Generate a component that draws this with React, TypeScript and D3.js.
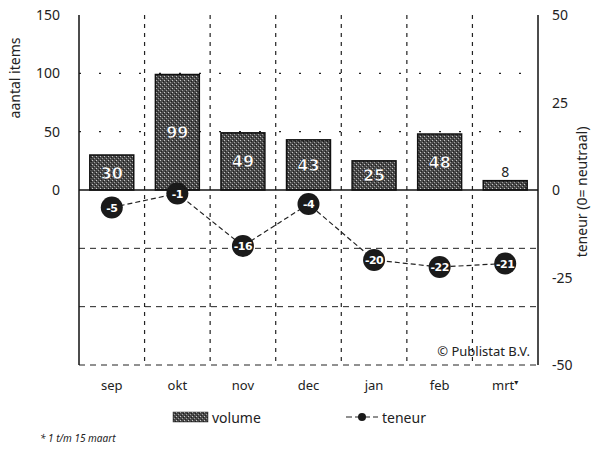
import React from "react";
import * as d3 from "d3";

const categories = ["sep", "okt", "nov", "dec", "jan", "feb", "mrt*"];
const volume = [30, 99, 49, 43, 25, 48, 8];
const teneur = [-5, -1, -16, -4, -20, -22, -21];
const leftTicks = [0, 50, 100, 150];
const rightTicks = [-50, -25, 0, 25, 50];
const gridDotted = [50, 100];
const gridDashed = [-50, -100, -150];

const W = 597, H = 449;
const M = { left: 79, right: 538, top: 15, bottom: 365 };
const FONT = "'Noto Sans', 'DejaVu Sans', sans-serif";
const BOLD = "'DejaVu Sans', sans-serif";

export default function App() {
  const x = d3.scaleBand().domain(categories).range([M.left, M.right]).paddingInner(0.33).paddingOuter(0.165);
  const xs = d3.scaleBand().domain(categories).range([M.left, M.right]);
  const yL = d3.scaleLinear().domain([-150, 150]).range([M.bottom, M.top]);
  const yR = d3.scaleLinear().domain([-50, 50]).range([M.bottom, M.top]);
  const line = d3.line<number>().x((_, i) => xs(categories[i])! + xs.bandwidth() / 2).y(d => yR(d));

  return (
    <svg width={W} height={H} style={{ position: "absolute", left: 0, top: 0, background: "#fff" }} fontFamily={FONT}>
      <defs>
        <pattern id="tex" width="4" height="4" patternUnits="userSpaceOnUse">
          <rect width="4" height="4" fill="#4a4a4a" />
          <rect x="0" y="0" width="1" height="1" fill="#c8c8c8" />
          <rect x="2" y="2" width="1" height="1" fill="#a0a0a0" />
          <rect x="3" y="1" width="1" height="1" fill="#1a1a1a" />
          <rect x="1" y="3" width="1" height="1" fill="#222" />
        </pattern>
      </defs>
      {/* horizontal grid */}
      {gridDotted.map(v => (
        <line key={"gd" + v} x1={M.left} x2={M.right} y1={yL(v)} y2={yL(v)} stroke="#222" strokeWidth={1.2} strokeDasharray="2,18" />
      ))}
      {gridDashed.map(v => (
        <line key={"gs" + v} x1={M.left} x2={M.right} y1={yL(v)} y2={yL(v)} stroke="#222" strokeWidth={1} strokeDasharray="6,5" />
      ))}
      {/* vertical grid */}
      {categories.slice(1).map(c => (
        <line key={"v" + c} x1={xs(c)!} x2={xs(c)!} y1={M.top} y2={M.bottom} stroke="#222" strokeWidth={1.2} strokeDasharray="4,5" />
      ))}
      {/* bars */}
      {volume.map((v, i) => (
        <g key={"b" + i}>
          <rect x={x(categories[i])!} y={yL(v)} width={x.bandwidth()} height={yL(0) - yL(v)} fill="url(#tex)" stroke="#111" strokeWidth={1.5} />
          {v >= 20 ? (
            <text x={x(categories[i])! + x.bandwidth() / 2} y={(yL(v) + yL(0)) / 2 + 6} textAnchor="middle" fontFamily={BOLD} fontSize={16} fontWeight="bold" fill="#fff" stroke="#111" strokeWidth={0.5}>{v}</text>
          ) : (
            <text x={x(categories[i])! + x.bandwidth() / 2} y={yL(v) - 4} textAnchor="middle" fontSize={14} fill="#222">{v}</text>
          )}
        </g>
      ))}
      {/* axes */}
      <line x1={M.left} x2={M.left} y1={M.top} y2={M.bottom} stroke="#111" strokeWidth={1.5} />
      <line x1={M.right} x2={M.right} y1={M.top} y2={M.bottom} stroke="#111" strokeWidth={1.5} />
      <line x1={M.left} x2={M.right} y1={yL(0)} y2={yL(0)} stroke="#111" strokeWidth={1.5} />
      {leftTicks.map(t => (
        <text key={"lt" + t} x={60} y={yL(t) + 5} textAnchor="end" fontSize={14} fill="#222">{t}</text>
      ))}
      {rightTicks.map(t => (
        <text key={"rt" + t} x={552} y={yR(t) + 5} textAnchor="start" fontSize={14} fill="#222">{t}</text>
      ))}
      <text transform={`translate(20,78) rotate(-90)`} textAnchor="middle" fontSize={14} fill="#222">aantal items</text>
      <text transform={`translate(587,192) rotate(-90)`} textAnchor="middle" fontSize={14} fill="#222">teneur (0= neutraal)</text>
      {categories.map(c => (
        <text key={"c" + c} x={xs(c)! + xs.bandwidth() / 2} y={390} textAnchor="middle" fontSize={13} fill="#222">{c.replace("*", "")}{c.endsWith("*") ? <tspan fontSize={8} dy={-5}>▾</tspan> : null}</text>
      ))}
      {/* teneur line */}
      <path d={line(teneur)!} fill="none" stroke="#222" strokeWidth={1.2} strokeDasharray="5,3" />
      {teneur.map((v, i) => (
        <g key={"m" + i}>
          <circle cx={xs(categories[i])! + xs.bandwidth() / 2} cy={yR(v)} r={11} fill="#1a1a1a" />
          <text x={xs(categories[i])! + xs.bandwidth() / 2} y={yR(v) + 4} textAnchor="middle" fontFamily={BOLD} fontSize={11} fontWeight="bold" letterSpacing={-0.5} fill="#fff">{v}</text>
        </g>
      ))}
      <text x={530} y={356} textAnchor="end" fontSize={13} fill="#222">© Publistat B.V.</text>
      {/* legend */}
      <rect x={173} y={412} width={35} height={10} fill="url(#tex)" stroke="#333" strokeWidth={0.5} />
      <text x={212} y={423} fontSize={14} fill="#222">volume</text>
      <line x1={346} x2={378} y1={417} y2={417} stroke="#222" strokeWidth={1.2} strokeDasharray="6,3" />
      <circle cx={362} cy={417} r={4} fill="#1a1a1a" />
      <text x={382} y={423} fontSize={14} fill="#222">teneur</text>
      <text x={40} y={442} fontSize={10} fontStyle="italic" fill="#222">* 1 t/m 15 maart</text>
    </svg>
  );
}
